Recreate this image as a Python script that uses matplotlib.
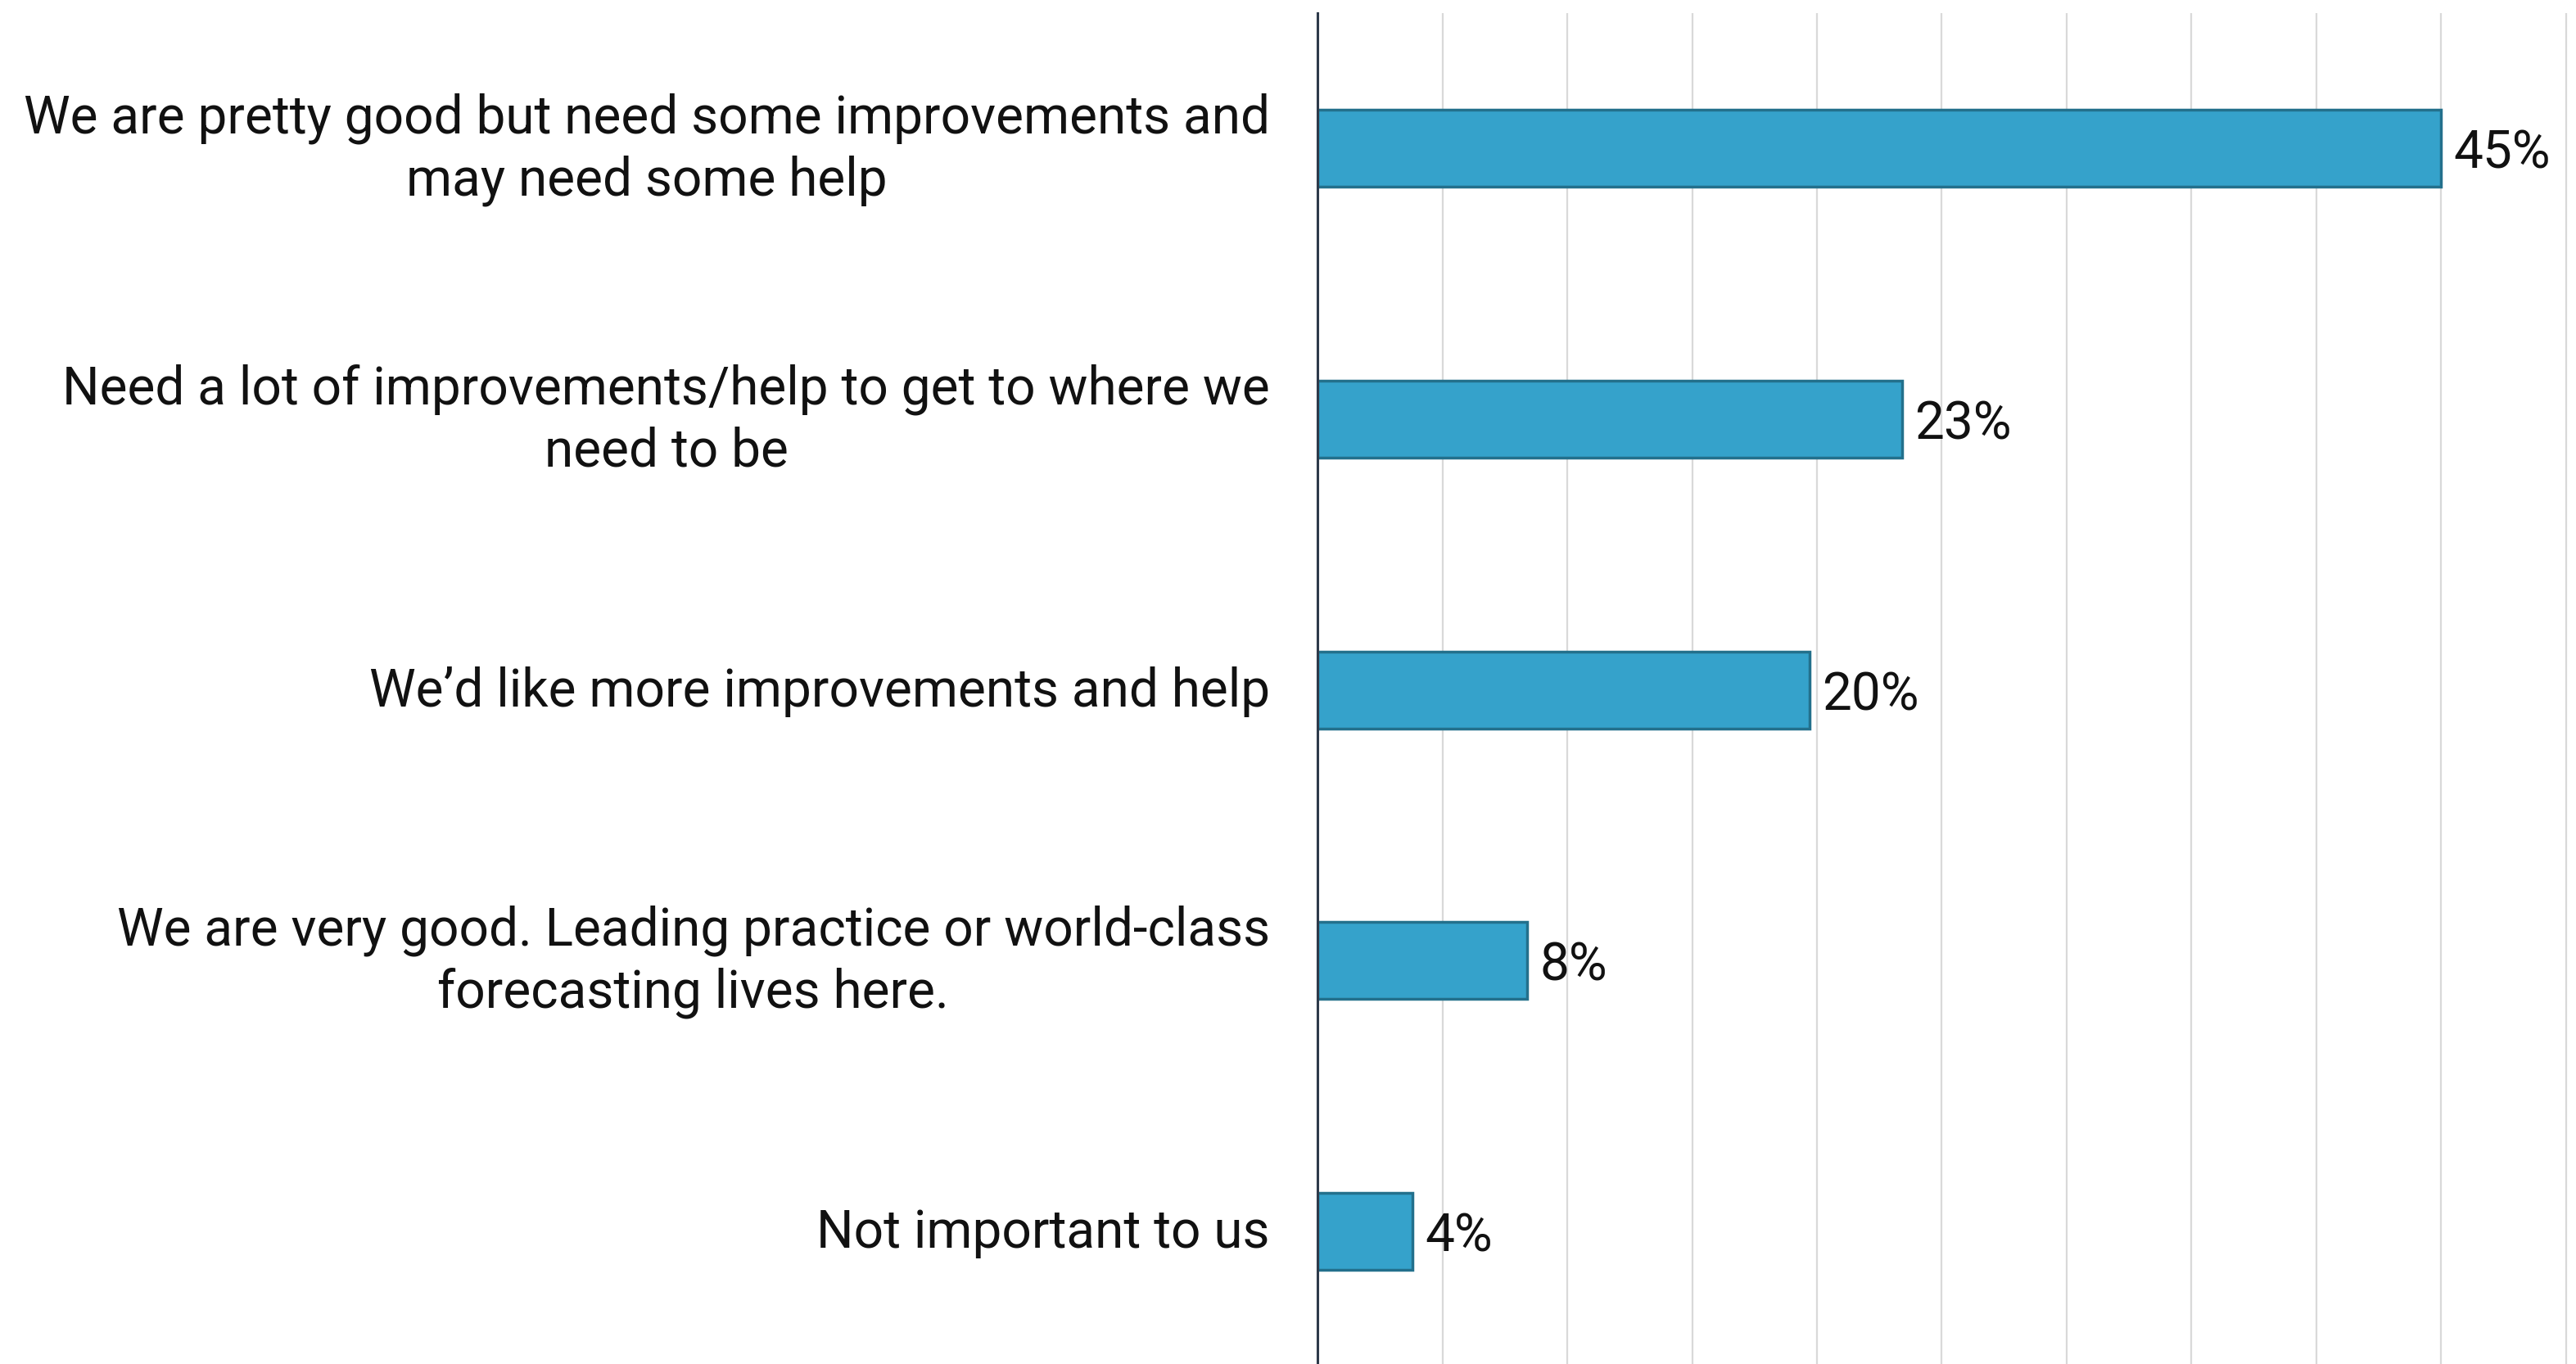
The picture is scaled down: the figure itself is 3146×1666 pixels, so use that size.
import matplotlib
matplotlib.use("Agg")
import matplotlib.pyplot as plt
from matplotlib.ticker import MultipleLocator
from matplotlib.transforms import ScaledTranslation

categories = [
    "We are pretty good but need some improvements and\nmay need some help",
    "Need a lot of improvements/help to get to where we\nneed to be",
    "We\u2019d like more improvements and help",
    "We are very good. Leading practice or world-class\nforecasting lives here.",
    "Not important to us",
]
values = [45.0, 23.4, 19.7, 8.4, 3.8]
value_labels = ["45%", "23%", "20%", "8%", "4%"]

plt.rcParams['font.family'] = ['Roboto', 'DejaVu Sans']

fig = plt.figure(figsize=(31.46, 16.66), dpi=100)
ax = fig.add_axes([0.5115, 0.0, 0.4885, 0.9904])

y = list(range(len(categories)))
bars = ax.barh(y, values, height=0.285, color='#35a2cb', edgecolor='#23708c', linewidth=2.5, zorder=3)

for yi, v, lab in zip(y, values, value_labels):
    ax.text(v + 0.5, yi, lab, va='center_baseline', ha='left', fontsize=46, color='#111111', zorder=4)

ax.set_yticks(y)
ax.set_yticklabels(categories, fontsize=46, color='#111111', multialignment='center', linespacing=1.28)
ax.tick_params(axis='y', length=0, pad=42)
ax.set_ylim(4.49, -0.5)
ax.set_xlim(0, 50.4)
ax.xaxis.set_major_locator(MultipleLocator(5))
ax.tick_params(axis='x', length=0, labelbottom=False)
ax.grid(axis='x', color='#d9d9d9', linewidth=1.6, zorder=0)
ax.set_axisbelow(True)
for s in ['top', 'right', 'bottom']:
    ax.spines[s].set_visible(False)
ax.spines['left'].set_color('#2e3a4a')
ax.spines['left'].set_linewidth(2.2)
ax.spines['left'].set_zorder(5)

for lbl in ax.get_yticklabels():
    dy = 0.12 if "\n" in lbl.get_text() else 0.04
    lbl.set_transform(lbl.get_transform() + ScaledTranslation(0, dy, fig.dpi_scale_trans))

fig.savefig("out.png", dpi=100)
